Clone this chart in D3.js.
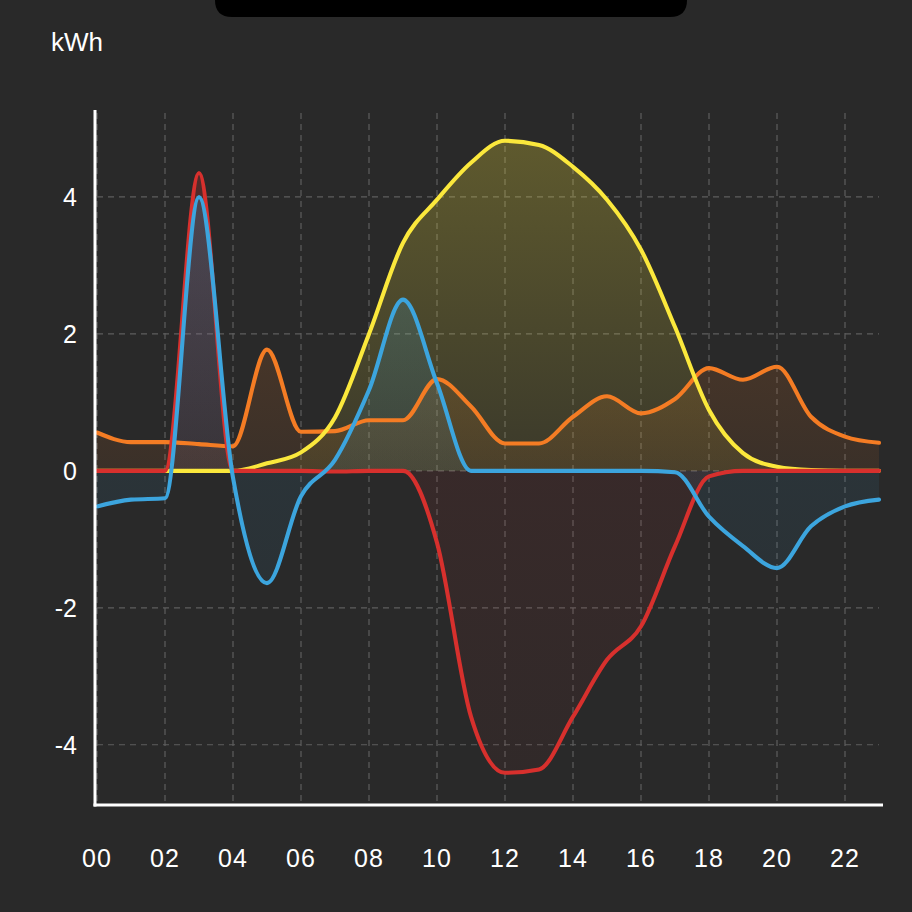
<!DOCTYPE html>
<html><head><meta charset="utf-8">
<script src="https://cdn.jsdelivr.net/npm/d3@7"></script>
<style>html,body{margin:0;padding:0;background:#292929;}svg{display:block;}</style>
</head><body>
<svg id="c" width="912" height="912"></svg>
<script>
const hours = d3.range(0, 24);
const xTickLabels = ["00","02","04","06","08","10","12","14","16","18","20","22"];
const yTicks = [-4, -2, 0, 2, 4];
const unitLabel = "kWh";

const solar = [0,0,0,0,0,0.11,0.27,0.78,2.0,3.33,3.96,4.5,4.82,4.76,4.44,3.96,3.23,2.1,0.89,0.26,0.06,0.01,0,0];
const consumption = [0.56,0.42,0.42,0.39,0.36,1.77,0.57,0.58,0.74,0.74,1.34,0.94,0.4,0.4,0.79,1.09,0.84,1.05,1.5,1.33,1.52,0.79,0.5,0.41];
const grid = [0,0,0,4.35,0,0,0,-0.01,0,0,-1.05,-3.59,-4.41,-4.36,-3.59,-2.76,-2.27,-1.1,-0.08,0,0,0,0,0];
const battery = [-0.52,-0.42,-0.4,4.0,-0.1,-1.64,-0.37,0.16,1.18,2.5,1.28,0,0,0,0,0,0,-0.02,-0.67,-1.1,-1.42,-0.81,-0.52,-0.42];

const seriesList = [
  {name:"consumption", values: consumption, color:"#f47c24"},
  {name:"solar", values: solar, color:"#fbe83c"},
  {name:"grid", values: grid, color:"#d7302d"},
  {name:"battery", values: battery, color:"#3ca5de"}
];

const svg = d3.select("#c");
const x = d3.scaleLinear().domain([0, 23]).range([97, 879]);
const y = d3.scaleLinear().domain([-4.88, 5.27]).range([805, 110]);

// top notch
svg.append("path")
  .attr("d", "M215,0 H687 V0 Q687,17 670,17 H232 Q215,17 215,0 Z")
  .attr("fill", "#000");

const defs = svg.append("defs");
const zeroOff = (y(0) - y(5.27)) / (y(-4.88) - y(5.27));
seriesList.forEach(s => {
  const g = defs.append("linearGradient").attr("id", "g-" + s.name)
    .attr("gradientUnits", "userSpaceOnUse")
    .attr("x1", 0).attr("x2", 0).attr("y1", y(5.27)).attr("y2", y(-4.88));
  g.append("stop").attr("offset", 0).attr("stop-color", s.color).attr("stop-opacity", 0.27);
  g.append("stop").attr("offset", zeroOff).attr("stop-color", s.color).attr("stop-opacity", 0.085);
  g.append("stop").attr("offset", 1).attr("stop-color", s.color).attr("stop-opacity", 0.04);
});

// grid
const gridG = svg.append("g").attr("stroke", "#5e5e5e").attr("stroke-width", 1.2).attr("stroke-dasharray", "6,5");
gridG.selectAll("line.v").data(d3.range(0, 23, 2)).join("line")
  .attr("x1", d => x(d)).attr("x2", d => x(d))
  .attr("y1", 113).attr("y2", 805);
gridG.selectAll("line.h").data(yTicks).join("line")
  .attr("x1", x(0)).attr("x2", x(23))
  .attr("y1", d => y(d)).attr("y2", d => y(d));

// areas and lines
const area = d3.area().x((d, i) => x(hours[i])).y0(y(0)).y1(d => y(d)).curve(d3.curveMonotoneX);
const line = d3.line().x((d, i) => x(hours[i])).y(d => y(d)).curve(d3.curveMonotoneX);

seriesList.forEach(s => {
  svg.append("path").attr("d", area(s.values)).attr("fill", "url(#g-" + s.name + ")");
});
seriesList.forEach(s => {
  svg.append("path").attr("d", line(s.values)).attr("fill", "none")
    .attr("stroke", s.color).attr("stroke-width", 4.1)
    .attr("stroke-linejoin", "round").attr("stroke-linecap", "round");
});

// axes lines
svg.append("line").attr("x1", 95).attr("x2", 95).attr("y1", 110).attr("y2", 806.5)
  .attr("stroke", "#fff").attr("stroke-width", 3);
svg.append("line").attr("x1", 93.5).attr("x2", 883).attr("y1", 805).attr("y2", 805)
  .attr("stroke", "#fff").attr("stroke-width", 3);

// tick labels
const font = "'Liberation Sans', Arial, sans-serif";
svg.append("g").selectAll("text").data(yTicks).join("text")
  .attr("x", 77).attr("y", d => y(d)).attr("dy", "0.36em")
  .attr("text-anchor", "end").attr("fill", "#fff")
  .attr("font-family", font).attr("font-size", 25)
  .text(d => d);
svg.append("g").selectAll("text").data(xTickLabels).join("text")
  .attr("x", (d, i) => x(i * 2)).attr("y", 867)
  .attr("text-anchor", "middle").attr("fill", "#fff")
  .attr("font-family", font).attr("font-size", 25).attr("letter-spacing", 1.2)
  .text(d => d);
svg.append("text").attr("x", 51).attr("y", 51).attr("fill", "#fff")
  .attr("font-family", font).attr("font-size", 26).text(unitLabel);
</script>
</body></html>
